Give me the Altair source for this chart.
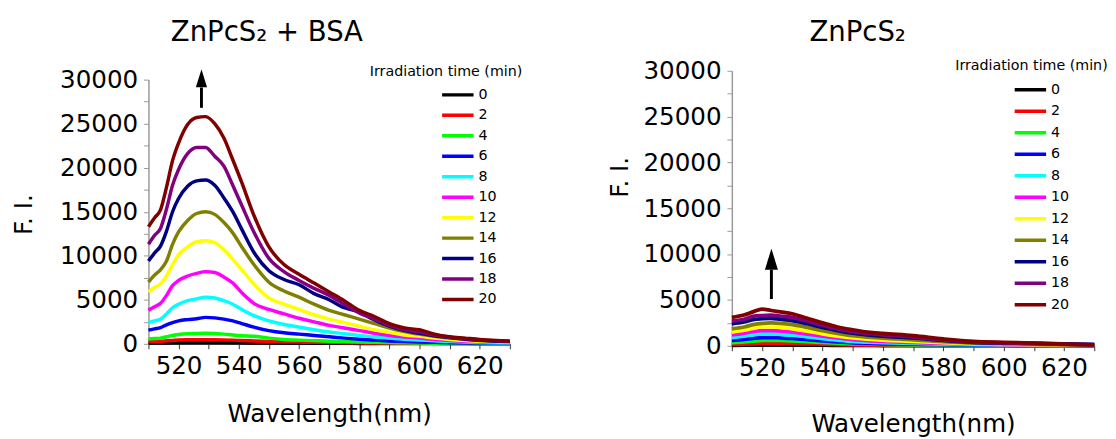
import altair as alt
import pandas as pd

FONT = "DejaVu Sans"

TIMES = [0, 2, 4, 6, 8, 10, 12, 14, 16, 18, 20]
COLORS = ["#000000", "#FF0000", "#00FF00", "#0000FF", "#00FFFF", "#FF00FF",
          "#FFFF00", "#808000", "#000080", "#800080", "#800000"]

X_TICKS = [510, 520, 530, 540, 550, 560, 570, 580, 590, 600, 610, 620, 630]
Y_TICKS = [0, 2500, 5000, 7500, 10000, 12500, 15000, 17500, 20000, 22500, 25000, 27500, 30000]

# ---------------- ZnPcS2 + BSA ----------------
WL_LEFT = [510, 512, 514, 516, 518, 520, 523, 526, 529, 532, 535, 538, 541, 545, 550,
           555, 560, 565, 570, 575, 580, 585, 590, 595, 600, 605, 610, 615, 620, 630]
LEFT_0 = [80, 90, 100, 120, 140, 160, 175, 180, 185, 180, 170, 160, 140, 120, 100,
          85, 75, 65, 55, 50, 45, 40, 35, 30, 28, 25, 22, 20, 18, 15]
LEFT_2 = [260, 280, 300, 340, 380, 430, 460, 470, 480, 470, 450, 420, 380, 330, 280,
          240, 200, 170, 150, 130, 110, 90, 80, 70, 60, 50, 40, 35, 30, 20]
LEFT_4 = [550, 600, 650, 800, 950, 1050, 1150, 1180, 1200, 1180, 1100, 1000, 920, 850, 650,
          500, 420, 360, 300, 250, 200, 170, 140, 110, 90, 70, 60, 50, 40, 30]
LEFT_6 = [1550, 1700, 1850, 2150, 2400, 2600, 2750, 2850, 3000, 2950, 2800, 2600, 2300, 1900, 1500,
          1250, 1100, 950, 800, 650, 520, 420, 330, 260, 210, 170, 130, 100, 80, 50]
LEFT_8 = [2400, 2600, 2800, 3400, 4100, 4500, 4900, 5100, 5300, 5200, 4900, 4500, 3900, 3200, 2600,
          2200, 1900, 1600, 1350, 1150, 950, 800, 650, 520, 430, 340, 260, 200, 150, 100]
LEFT_10 = [3800, 4200, 4600, 5500, 6600, 7200, 7700, 8000, 8200, 8100, 7600, 6900, 5800, 4600, 3900,
           3400, 2900, 2500, 2100, 1800, 1500, 1200, 950, 780, 650, 500, 380, 300, 220, 150]
LEFT_12 = [5900, 6400, 6800, 7700, 9000, 10100, 11000, 11600, 11700, 11500, 10700, 9600, 8400, 6800, 5200,
           4500, 3900, 3300, 2800, 2400, 2000, 1600, 1300, 1000, 850, 650, 500, 380, 280, 180]
LEFT_14 = [7000, 7800, 8400, 9400, 11300, 12700, 14000, 14800, 15000, 14700, 13800, 12600, 11000, 9000, 7000,
           6000, 5300, 4500, 3800, 3300, 2800, 2300, 1800, 1400, 1100, 850, 650, 500, 380, 250]
LEFT_16 = [9400, 10300, 11100, 12800, 15000, 16500, 17900, 18500, 18600, 18000, 16600, 15000, 13000, 10400, 8300,
           7300, 6700, 5700, 5000, 4100, 3600, 2700, 2000, 1500, 1200, 900, 700, 550, 400, 250]
LEFT_18 = [11300, 12300, 13100, 15300, 18000, 19800, 21600, 22300, 22300, 21300, 20200, 18000, 15700, 12700, 9700,
           8200, 7200, 6300, 5500, 4500, 3500, 2800, 2100, 1600, 1350, 1000, 750, 600, 450, 300]
LEFT_20 = [13300, 14300, 15200, 17800, 20800, 22800, 24900, 25700, 25800, 25000, 23400, 20900, 18300, 14600, 11000,
           9000, 7900, 6900, 5900, 4900, 3800, 3100, 2300, 1800, 1600, 1100, 800, 650, 500, 300]
LEFT_SERIES = [LEFT_0, LEFT_2, LEFT_4, LEFT_6, LEFT_8, LEFT_10, LEFT_12, LEFT_14, LEFT_16, LEFT_18, LEFT_20]

# ---------------- ZnPcS2 ----------------
WL_RIGHT = [510, 514, 517, 520, 523, 526, 530, 535, 540, 545, 550, 555, 560, 570, 580, 590, 600, 610, 620, 630]
RIGHT_0 = [50, 60, 70, 90, 100, 95, 90, 75, 60, 50, 40, 35, 30, 25, 20, 15, 12, 10, 8, 5]
RIGHT_2 = [150, 180, 220, 270, 290, 280, 260, 220, 170, 130, 100, 80, 70, 55, 40, 30, 25, 20, 15, 10]
RIGHT_4 = [350, 420, 500, 580, 600, 580, 540, 460, 360, 280, 210, 170, 140, 110, 80, 55, 40, 30, 25, 20]
RIGHT_6 = [600, 700, 820, 900, 900, 860, 800, 680, 540, 420, 320, 260, 220, 170, 120, 80, 60, 50, 40, 30]
RIGHT_8 = [900, 1050, 1200, 1300, 1300, 1250, 1150, 980, 780, 620, 480, 400, 340, 260, 180, 120, 90, 70, 50, 40]
RIGHT_10 = [1200, 1350, 1550, 1650, 1650, 1600, 1500, 1280, 1050, 850, 680, 560, 480, 370, 250, 170, 120, 90, 70, 50]
RIGHT_12 = [1500, 1700, 1900, 2050, 2050, 2000, 1850, 1600, 1300, 1050, 850, 720, 620, 480, 330, 220, 160, 120, 90, 60]
RIGHT_14 = [1850, 2050, 2300, 2450, 2500, 2450, 2300, 2000, 1650, 1350, 1100, 950, 830, 650, 450, 300, 220, 170, 120, 80]
RIGHT_16 = [2400, 2600, 2850, 2950, 3000, 2900, 2750, 2400, 2000, 1650, 1380, 1200, 1050, 850, 580, 380, 300, 260, 200, 150]
RIGHT_18 = [2700, 2900, 3200, 3300, 3350, 3250, 3100, 2700, 2250, 1850, 1550, 1350, 1200, 950, 650, 420, 330, 260, 160, 90]
RIGHT_20 = [3100, 3350, 3700, 4000, 3850, 3700, 3500, 3000, 2500, 2050, 1750, 1500, 1350, 1100, 750, 480, 380, 300, 180, 100]
RIGHT_SERIES = [RIGHT_0, RIGHT_2, RIGHT_4, RIGHT_6, RIGHT_8, RIGHT_10, RIGHT_12, RIGHT_14, RIGHT_16, RIGHT_18, RIGHT_20]

# arrows: x, base, neck (bottom of head), head centre
LEFT_ARROW = [527.6, 26800, 29100, 30150]
RIGHT_ARROW = [523.1, 5100, 8300, 9450]

HEADING = "Irradiation time (min)"
LEFT_HEADING_POS = [608.8, 30860]
RIGHT_HEADING_POS = [609.2, 30500]


def long_df(wl, series):
    rows = []
    for t, vals in zip(TIMES, series):
        for w, v in zip(wl, vals):
            rows.append({"wavelength": w, "intensity": v, "time": t})
    return pd.DataFrame(rows)


def panel(wl, series, arrow, heading_pos, title, title_offset, width, height, y_range,
          lx, ly, row_pad, lw, ytitle_y, ytitle_pad, xtitle_pad, head_size):
    df = long_df(wl, series)
    x_scale = alt.Scale(domain=[510, 630], nice=False, zero=False)
    y_scale = alt.Scale(domain=[0, 30000], nice=False, range=y_range)
    x_axis = alt.Axis(values=X_TICKS, labelExpr="datum.value % 20 == 0 ? datum.label : ''",
                      title="Wavelength(nm)", grid=False, labelFont=FONT, labelFontSize=25,
                      titleFont=FONT, titleFontSize=25, titleFontWeight="normal",
                      labelColor="black", titleColor="black", domainColor="#333333",
                      tickColor="#333333", tickSize=5, labelPadding=5,
                      titlePadding=xtitle_pad, domainWidth=1.5, labelFlush=False)
    y_axis = alt.Axis(values=Y_TICKS, labelExpr="datum.value % 5000 == 0 ? datum.label : ''",
                      format="d", title="F. I.", grid=False, labelFont=FONT, labelFontSize=25,
                      titleFont=FONT, titleFontSize=25, titleFontWeight="normal",
                      labelColor="black", titleColor="black", domainColor="#999999",
                      tickColor="#999999", tickSize=5, labelPadding=6,
                      titlePadding=ytitle_pad, titleY=ytitle_y, domainWidth=1.5)
    X = alt.X("wavelength:Q", scale=x_scale, axis=x_axis)
    Y = alt.Y("intensity:Q", scale=y_scale, axis=y_axis)

    lines = alt.Chart(df).mark_line(strokeWidth=lw, interpolate="monotone").encode(
        x=X, y=Y,
        color=alt.Color("time:O", scale=alt.Scale(domain=TIMES, range=COLORS),
                        legend=alt.Legend(orient="none", legendX=lx, legendY=ly, title=None,
                                          symbolType="stroke", symbolSize=1024,
                                          symbolStrokeWidth=3.5, clipHeight=16,
                                          rowPadding=row_pad, labelFont=FONT,
                                          labelFontSize=14.5, labelOffset=3, padding=0,
                                          labelColor="black")),
        order=alt.Order("time:Q"),
    )

    arrow_df = pd.DataFrame([{"wavelength": arrow[0], "intensity": arrow[1], "y1": arrow[2]}])
    head_df = pd.DataFrame([{"wavelength": arrow[0], "intensity": arrow[3]}])
    shaft = alt.Chart(arrow_df).mark_rule(strokeWidth=3, color="black").encode(
        x=X, y=Y, y2="y1:Q")
    head = alt.Chart(head_df).mark_point(shape="M0,-1L0.62,1L-0.62,1Z", filled=True,
                                         size=head_size, color="black", opacity=1).encode(x=X, y=Y)

    heading_df = pd.DataFrame([{"wavelength": heading_pos[0], "intensity": heading_pos[1],
                                "label": HEADING}])
    heading = alt.Chart(heading_df).mark_text(font=FONT, fontSize=14.5, align="center",
                                              baseline="middle", color="black").encode(
        x=X, y=Y, text="label:N")

    return alt.layer(lines, shaft, head, heading).properties(
        width=width, height=height,
        title=alt.TitleParams(text=title, font=FONT, fontSize=28, fontWeight="normal",
                              color="black", offset=title_offset, frame="bounds",
                              anchor="middle"),
    )


# left plot area sits 9 px lower than the right one: its y range starts 9 px below the top
left = panel(WL_LEFT, LEFT_SERIES, LEFT_ARROW, LEFT_HEADING_POS, "ZnPcS\u2082 + BSA", 17.8,
             368, 278, [278, 9], 297, 16.5, 4.84, 3.5, 146, 24, 24, 335)
right = panel(WL_RIGHT, RIGHT_SERIES, RIGHT_ARROW, RIGHT_HEADING_POS, "ZnPcS\u2082", 11.5,
              369, 280, [280, 0], 286, 11.3, 5.9, 3.8, 108, 11, 32, 458)

chart = alt.concat(left, right, columns=2, spacing=86, align="none").resolve_scale(
    color="independent").resolve_legend(color="independent").properties(
    padding={"left": 3, "top": 7, "right": 0, "bottom": 0}
).configure_view(stroke=None)

chart.save("out.html", embed_options={"renderer": "svg", "actions": False})
